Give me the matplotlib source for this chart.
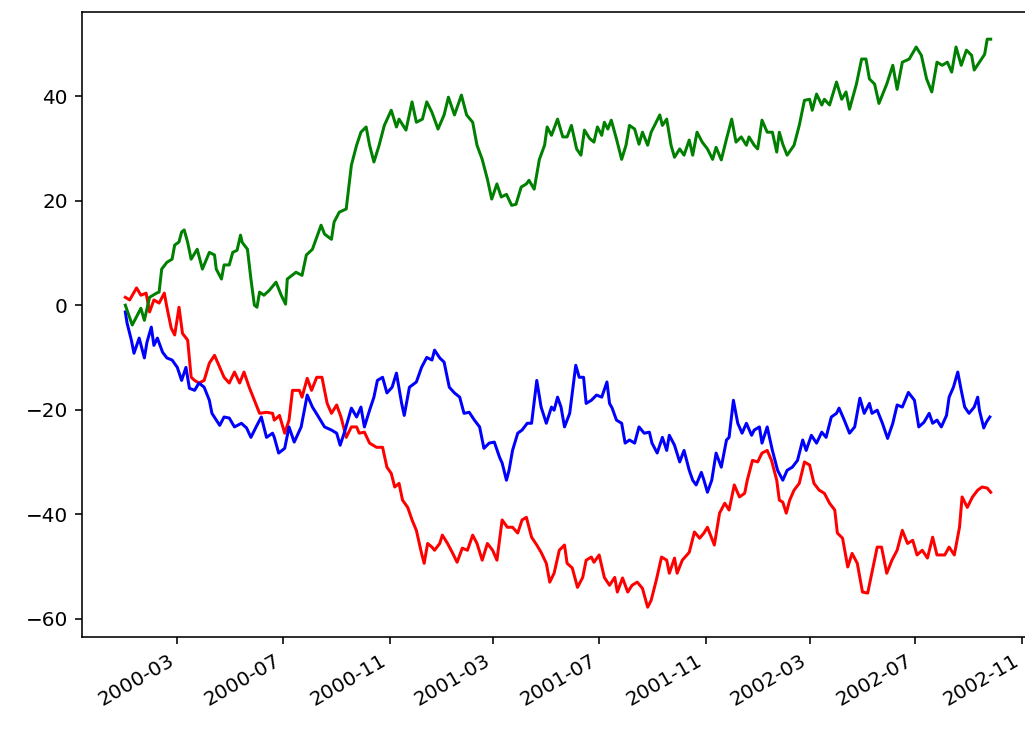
import matplotlib
matplotlib.use("Agg")
import matplotlib.pyplot as plt
import matplotlib.dates as mdates
import pandas as pd

START = "2000-01-01"

# Three cumulative walks, sampled as (day offset from START, level)
red_days = [0, 5, 13, 18, 24, 28, 33, 39, 45, 48, 53, 57, 62, 66, 72, 76, 80, 85, 91, 97,
            103, 109, 114, 120, 126, 132, 137, 143, 149, 155, 163, 170, 172, 178, 184, 189,
            193, 201, 204, 210, 215, 221, 227, 233, 238, 244, 249, 255, 261, 267, 270, 276,
            282, 290, 297, 302, 307, 311, 316, 320, 326, 331, 336, 342, 345, 349, 354, 357,
            363, 366, 372, 378, 383, 389, 395, 401, 406, 412, 418, 424, 429, 435, 441, 447,
            453, 458, 463, 469, 475, 480, 486, 490, 495, 501, 507, 510, 516, 522, 528, 532,
            538, 541, 547, 553, 559, 565, 568, 574, 580, 585, 591, 597, 603, 607, 613, 619,
            625, 628, 634, 637, 643, 651, 657, 663, 668, 672, 680, 686, 692, 697, 703, 709,
            715, 718, 724, 730, 735, 741, 746, 752, 755, 759, 763, 767, 772, 778, 784, 790,
            795, 801, 807, 813, 819, 822, 828, 834, 839, 845, 851, 857, 862, 868, 873, 879,
            885, 891, 897, 903, 909, 914, 920, 926, 932, 937, 946, 951, 957, 963, 966, 972,
            978, 984, 989, 995, 999]
red_vals = [1.5, 1.0, 3.3, 1.9, 2.3, -1.3, 1.0, 0.4, 2.3, -0.4, -4.4, -5.7, -0.4, -5.4, -6.7,
            -13.8, -14.4, -14.9, -14.4, -11.1, -9.6, -11.9, -13.8, -14.9, -12.8, -14.9, -12.8,
            -15.7, -18.2, -20.7, -20.5, -20.7, -22.0, -21.1, -24.5, -22.0, -16.3, -16.3, -17.6,
            -14.0, -16.3, -13.8, -13.8, -18.8, -20.7, -19.1, -21.4, -25.3, -23.3, -23.3, -24.5,
            -24.3, -26.4, -27.2, -27.2, -31.0, -32.2, -34.8, -34.1, -37.3, -38.7, -41.1, -43.1,
            -47.5, -49.4, -45.6, -46.3, -46.9, -45.6, -44.0, -45.6, -47.5, -49.2, -46.5, -46.9,
            -44.0, -45.6, -48.8, -45.6, -46.9, -48.8, -41.1, -42.5, -42.5, -43.6, -41.1, -40.6,
            -44.4, -45.9, -47.3, -49.4, -53.0, -51.3, -46.9, -45.9, -49.4, -50.3, -54.0, -52.1,
            -48.8, -48.2, -49.2, -47.8, -52.1, -53.6, -52.1, -54.9, -52.2, -54.9, -53.6, -53.0,
            -54.2, -57.8, -56.5, -52.6, -48.2, -48.8, -51.3, -48.4, -51.3, -48.8, -47.3, -43.4,
            -44.6, -43.6, -42.5, -45.9, -39.8, -37.9, -39.2, -34.4, -36.7, -36.0, -33.5, -29.7,
            -30.0, -28.3, -27.8, -29.7, -33.5, -37.3, -37.7, -39.8, -37.3, -35.4, -34.1, -30.0,
            -30.6, -34.1, -35.4, -36.0, -37.9, -39.2, -43.6, -44.6, -50.1, -47.5, -49.4, -54.9,
            -55.1, -51.1, -46.3, -46.3, -51.3, -48.8, -46.9, -43.1, -45.6, -45.0, -47.8, -46.9,
            -48.4, -44.4, -47.8, -47.8, -46.3, -47.8, -42.5, -36.7, -38.7, -36.7, -35.4, -34.8,
            -35.0, -35.8]

blue_days = [0, 2, 7, 10, 16, 22, 25, 30, 33, 37, 43, 48, 54, 60, 65, 70, 74, 80, 85, 91, 97,
             100, 109, 114, 120, 126, 134, 140, 145, 151, 157, 163, 170, 172, 177, 184, 189,
             195, 203, 210, 216, 222, 230, 238, 244, 248, 253, 261, 267, 272, 276, 282, 287,
             291, 297, 302, 308, 313, 319, 322, 328, 336, 342, 348, 354, 357, 363, 368, 374,
             380, 386, 391, 397, 403, 409, 414, 420, 426, 432, 435, 440, 443, 447, 453, 458,
             464, 469, 475, 480, 486, 492, 495, 499, 503, 507, 513, 520, 524, 529, 532, 538,
             544, 550, 556, 559, 562, 567, 573, 577, 582, 588, 593, 599, 605, 608, 614, 620,
             625, 628, 634, 640, 645, 651, 655, 659, 665, 668, 672, 677, 682, 688, 694, 697,
             702, 707, 712, 717, 723, 726, 732, 735, 741, 747, 753, 759, 764, 770, 776, 782,
             786, 792, 798, 804, 809, 815, 821, 824, 830, 836, 842, 848, 853, 859, 862, 868,
             874, 880, 886, 891, 897, 904, 911, 916, 922, 928, 932, 937, 942, 948, 951, 956,
             961, 965, 969, 974, 980, 984, 986, 991, 994, 998]
blue_vals = [-1.3, -3.4, -6.7, -9.2, -6.3, -10.1, -7.1, -4.2, -7.7, -6.3, -9.0, -10.1, -10.5,
             -11.9, -14.4, -11.9, -15.9, -16.3, -14.9, -15.7, -18.2, -20.7, -23.0, -21.4, -21.6,
             -23.3, -22.6, -23.5, -25.3, -23.3, -21.4, -25.3, -24.5, -25.3, -28.3, -27.4, -23.3,
             -26.2, -23.3, -17.2, -19.5, -21.1, -23.3, -23.9, -24.5, -26.8, -24.3, -19.7, -21.4,
             -19.5, -23.3, -20.1, -17.6, -14.4, -13.8, -16.8, -15.7, -13.0, -18.8, -21.1, -15.7,
             -14.7, -11.9, -10.0, -10.5, -8.6, -10.1, -10.9, -15.7, -16.8, -17.6, -20.7, -20.5,
             -22.0, -23.3, -27.4, -26.4, -26.2, -29.1, -30.2, -33.5, -31.6, -27.8, -24.5, -23.9,
             -22.6, -22.6, -14.4, -19.5, -22.6, -19.5, -20.1, -17.6, -19.5, -23.3, -20.7, -11.5,
             -13.8, -13.8, -18.8, -18.2, -17.2, -17.6, -14.7, -18.8, -19.7, -22.0, -22.6, -26.4,
             -25.8, -26.4, -23.3, -24.5, -24.3, -26.4, -28.3, -25.3, -27.8, -24.9, -26.8, -30.0,
             -27.8, -31.6, -33.5, -34.4, -32.0, -33.5, -35.8, -33.5, -28.3, -31.0, -25.8, -25.3,
             -18.2, -22.6, -24.5, -22.6, -24.9, -23.9, -23.3, -26.4, -23.3, -27.8, -31.6, -33.5,
             -31.6, -31.0, -29.7, -25.8, -27.8, -24.9, -26.4, -24.3, -25.3, -21.4, -20.7, -19.7,
             -22.0, -24.5, -23.3, -17.8, -20.7, -18.8, -20.7, -20.1, -22.6, -25.5, -22.6, -19.1,
             -19.5, -16.7, -18.2, -23.3, -22.4, -20.7, -22.6, -22.0, -23.3, -21.1, -17.6, -15.7,
             -12.8, -16.3, -19.5, -20.7, -19.5, -17.6, -20.1, -23.5, -22.4, -21.4]

green_days = [0, 8, 18, 22, 28, 36, 39, 42, 48, 54, 57, 62, 65, 68, 72, 76, 83, 89, 97, 103,
              105, 111, 114, 120, 124, 129, 133, 135, 141, 145, 149, 152, 155, 160, 166, 174,
              180, 185, 187, 197, 204, 209, 216, 226, 230, 238, 241, 247, 255, 261, 267, 272,
              278, 282, 287, 293, 299, 307, 313, 316, 324, 331, 336, 343, 348, 354, 361, 368,
              373, 380, 388, 394, 401, 406, 412, 418, 423, 429, 434, 440, 446, 451, 457, 463,
              466, 472, 478, 484, 487, 492, 499, 505, 510, 515, 521, 526, 530, 536, 541, 545,
              550, 553, 557, 561, 567, 573, 578, 582, 588, 593, 597, 603, 607, 611, 617, 620,
              625, 630, 634, 640, 645, 651, 655, 660, 666, 672, 678, 682, 688, 694, 700, 705,
              711, 717, 720, 726, 730, 735, 741, 747, 752, 755, 759, 764, 772, 778, 784, 790,
              793, 798, 804, 807, 813, 821, 827, 832, 836, 844, 850, 855, 859, 865, 870, 879,
              886, 891, 897, 905, 913, 919, 925, 931, 937, 943, 949, 954, 959, 965, 971, 977,
              980, 986, 992, 995, 999]
green_vals = [0.0, -3.8, -0.6, -2.9, 1.5, 2.3, 2.5, 6.9, 8.2, 8.8, 11.5, 12.1, 14.0, 14.4, 12.0,
              8.8, 10.7, 6.9, 10.1, 9.6, 6.9, 5.0, 7.7, 7.7, 10.1, 10.5, 13.4, 12.0, 10.7, 5.0,
              0.0, -0.4, 2.5, 1.9, 2.8, 4.4, 1.9, 0.2, 5.0, 6.3, 5.7, 9.6, 10.7, 15.3, 13.6, 12.6,
              15.9, 17.8, 18.4, 26.8, 30.6, 33.1, 34.1, 30.6, 27.4, 30.6, 34.4, 37.3, 34.1, 35.6,
              33.5, 38.9, 35.0, 35.6, 38.9, 36.9, 33.7, 36.4, 39.8, 36.4, 40.2, 36.4, 35.0, 30.6,
              27.9, 24.1, 20.3, 23.2, 20.7, 21.2, 19.1, 19.3, 22.6, 23.2, 23.9, 22.2, 27.9, 30.6,
              34.1, 32.5, 35.6, 32.2, 32.2, 34.4, 29.9, 28.7, 33.5, 31.9, 31.2, 34.1, 32.5, 35.0,
              33.7, 35.4, 31.8, 27.9, 30.6, 34.4, 33.7, 30.8, 33.1, 30.6, 33.1, 34.4, 36.4, 34.4,
              35.6, 30.6, 28.3, 29.9, 28.7, 31.6, 28.7, 33.1, 31.2, 29.9, 27.9, 30.2, 27.8, 31.8,
              35.6, 31.2, 32.2, 30.6, 32.2, 30.6, 29.9, 35.4, 33.1, 33.1, 29.3, 33.1, 30.8, 28.7,
              30.6, 34.4, 39.2, 39.4, 37.3, 40.4, 38.3, 39.4, 38.3, 42.7, 39.4, 40.8, 37.5, 42.3,
              47.1, 47.1, 43.3, 42.3, 38.6, 42.3, 45.9, 41.3, 46.5, 47.1, 49.4, 47.8, 43.3, 40.8,
              46.5, 45.9, 46.5, 44.6, 49.4, 45.9, 48.8, 47.8, 45.0, 46.5, 48.0, 50.9, 50.9]


def to_series(days, vals):
    idx = pd.Timestamp(START) + pd.to_timedelta(days, unit="D")
    return pd.Series(vals, index=idx)


red = to_series(red_days, red_vals)
blue = to_series(blue_days, blue_vals)
green = to_series(green_days, green_vals)

DPI = 144
fig = plt.figure(figsize=(1025 / DPI, 730 / DPI), dpi=DPI)
ax = fig.add_axes([82 / 1025, 1 - 637 / 730, 952 / 1025, 625 / 730])

ax.plot(red.index, red.values, color="r", lw=1.5)
ax.plot(blue.index, blue.values, color="b", lw=1.5)
ax.plot(green.index, green.values, color="g", lw=1.5)

t0 = pd.Timestamp(START)
ax.set_xlim(t0 - pd.Timedelta(days=50), t0 + pd.Timedelta(days=1049))
ax.set_ylim(-63.5, 56.1)

ax.xaxis.set_major_locator(mdates.MonthLocator(bymonth=[3, 7, 11]))
ax.xaxis.set_major_formatter(mdates.DateFormatter("%Y-%m"))
for lbl in ax.get_xticklabels():
    lbl.set_rotation(30)
    lbl.set_ha("right")

fig.savefig("out.png", dpi=DPI)
